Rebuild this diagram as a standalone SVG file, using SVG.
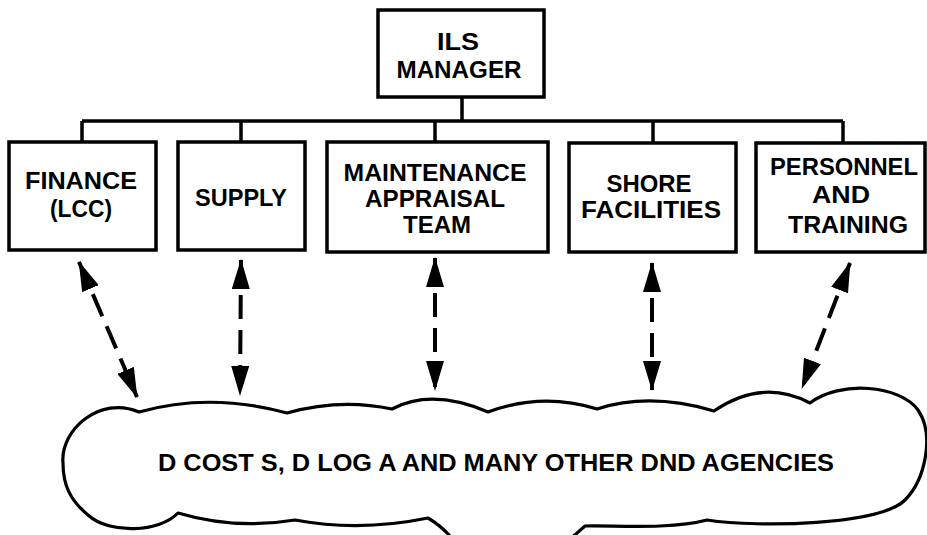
<svg xmlns="http://www.w3.org/2000/svg" width="927" height="535" viewBox="0 0 927 535">
<defs>
<style>
.box{fill:#fff;stroke:#000;stroke-width:3.5}
.t{font-family:"Liberation Sans",Arial,sans-serif;font-weight:bold;font-size:24.5px;text-anchor:middle;fill:#000}
.tree{fill:none;stroke:#000;stroke-width:3.5}
.arr{fill:none;stroke:#000;stroke-width:4;stroke-dasharray:24 11;marker-start:url(#ah);marker-end:url(#ah)}
.cloud{fill:#fff;stroke:#000;stroke-width:3.2;stroke-linejoin:round}
</style>
<marker id="ah" markerUnits="userSpaceOnUse" viewBox="0 0 30 18" refX="29" refY="9" markerWidth="30" markerHeight="18" orient="auto-start-reverse">
<path d="M0,0 L30,9 L0,18 Z" fill="#000"/>
</marker>
</defs>
<rect width="927" height="535" fill="#fff"/>
<g id="connectors">
<path class="tree" d="M462,97 V121 M82,121 H843 M82,121 V142 M241,121 V142 M435,121 V142 M653,121 V143 M843,121 V143"/>
<line class="arr" x1="79" y1="262" x2="137" y2="397"/>
<line class="arr" x1="241" y1="260" x2="240" y2="395"/>
<line class="arr" x1="435" y1="258" x2="435" y2="390"/>
<line class="arr" x1="652" y1="263" x2="652" y2="390"/>
<line class="arr" x1="850" y1="263" x2="802" y2="388"/>
</g>
<g id="ils-manager">
<rect class="box" x="378" y="10" width="166" height="87"/>
<text class="t" x="458" y="50" textLength="42" lengthAdjust="spacingAndGlyphs">ILS</text>
<text class="t" x="459" y="78" textLength="125" lengthAdjust="spacingAndGlyphs">MANAGER</text>
</g>
<g id="finance">
<rect class="box" x="9" y="142" width="147" height="108"/>
<text class="t" x="81" y="189" textLength="112" lengthAdjust="spacingAndGlyphs">FINANCE</text>
<text class="t" x="81" y="217" textLength="62" lengthAdjust="spacingAndGlyphs">(LCC)</text>
</g>
<g id="supply">
<rect class="box" x="178" y="142" width="127" height="108"/>
<text class="t" x="241" y="206" textLength="92" lengthAdjust="spacingAndGlyphs">SUPPLY</text>
</g>
<g id="maintenance">
<rect class="box" x="327" y="142" width="221" height="110"/>
<text class="t" x="435" y="181" textLength="183" lengthAdjust="spacingAndGlyphs">MAINTENANCE</text>
<text class="t" x="435" y="207" textLength="140" lengthAdjust="spacingAndGlyphs">APPRAISAL</text>
<text class="t" x="437" y="233" textLength="68" lengthAdjust="spacingAndGlyphs">TEAM</text>
</g>
<g id="shore">
<rect class="box" x="569" y="143" width="167" height="109"/>
<text class="t" x="649" y="192" textLength="85" lengthAdjust="spacingAndGlyphs">SHORE</text>
<text class="t" x="651" y="218" textLength="140" lengthAdjust="spacingAndGlyphs">FACILITIES</text>
</g>
<g id="personnel">
<rect class="box" x="756" y="143" width="169" height="109"/>
<text class="t" x="844" y="175" textLength="148" lengthAdjust="spacingAndGlyphs">PERSONNEL</text>
<text class="t" x="841" y="203" textLength="58" lengthAdjust="spacingAndGlyphs">AND</text>
<text class="t" x="848" y="233" textLength="120" lengthAdjust="spacingAndGlyphs">TRAINING</text>
</g>
<g id="agencies">
<path class="cloud" d="M63,463 C60,430 100,395 139,412 Q210,392 287,413 Q340,398 392,409 Q432,388 488,412 Q542,392 597,409 Q650,392 714,411 Q762,378 810,403 C840,380 900,385 918,410 C935,435 925,480 905,500 C880,525 760,528 707,520 C670,530 610,525 585,526 L560,548 L520,560 L490,560 L457,545 Q445,528 428,518 Q360,532 295,520 Q235,530 178,513 C160,532 110,535 88,515 C70,500 63,485 63,463 Z"/>
<text class="t" x="496" y="471" style="font-size:24px" textLength="676" lengthAdjust="spacingAndGlyphs">D COST S, D LOG A AND MANY OTHER DND AGENCIES</text>
</g>
</svg>
